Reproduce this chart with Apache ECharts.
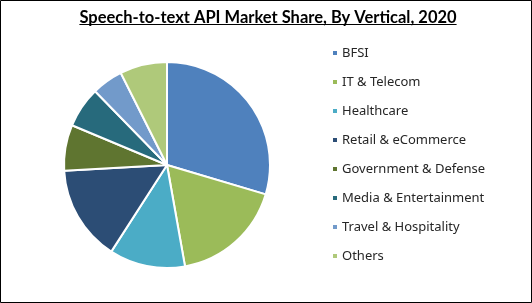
<!DOCTYPE html>
<html><head><meta charset="utf-8">
<script src="https://cdn.jsdelivr.net/npm/echarts@6/dist/echarts.min.js"></script>
<style>html,body{margin:0;padding:0;background:#fff}#c{width:532px;height:303px}</style>
</head><body><div id="c"></div>
<script>
const titleText = 'Speech-to-text API Market Share, By Vertical, 2020';
const categories = ['BFSI','IT & Telecom','Healthcare','Retail & eCommerce','Government & Defense','Media & Entertainment','Travel & Hospitality','Others'];
const shares = [29.6, 17.6, 11.9, 15.0, 7.2, 6.4, 4.9, 7.4];
const colors = ['#4F81BD','#9BBB59','#4BACC6','#2C4D75','#5F7530','#276A7C','#729ACA','#AFC97A'];

const titleFont = 'bold 16.5px Lato';
const cv = document.createElement('canvas').getContext('2d');
cv.font = titleFont;
const tw = cv.measureText(titleText).width;
const tcx = 268;

const chart = echarts.init(document.getElementById('c'), null, {renderer:'canvas'});
chart.setOption({
  animation:false,
  color: colors,
  graphic: [
    {type:'rect', shape:{x:0.5,y:0.5,width:531,height:302}, style:{fill:'none',stroke:'#000',lineWidth:1}, silent:true},
    {type:'text', x:tcx, y:17.5, style:{text:titleText, font:titleFont, fill:'#000', align:'center', verticalAlign:'middle'}},
    {type:'line', shape:{x1:tcx-tw/2, y1:24.5, x2:tcx+tw/2, y2:24.5}, style:{stroke:'#000', lineWidth:1}}
  ],
  legend: {
    orient:'vertical', left:326, top:40,
    icon:'rect', itemWidth:6, itemHeight:6, itemGap:13,
    textStyle:{fontFamily:'Noto Sans', fontSize:13, color:'#262626', lineHeight:16, padding:[0,0,0,-1]},
    data: categories
  },
  series:[{
    type:'pie', center:[167,165], radius:103, startAngle:90, clockwise:true,
    label:{show:false}, labelLine:{show:false},
    itemStyle:{borderColor:'#fff', borderWidth:2},
    emphasis:{disabled:true},
    data: categories.map((n,i)=>({name:n, value:shares[i]}))
  }]
});
</script></body></html>
